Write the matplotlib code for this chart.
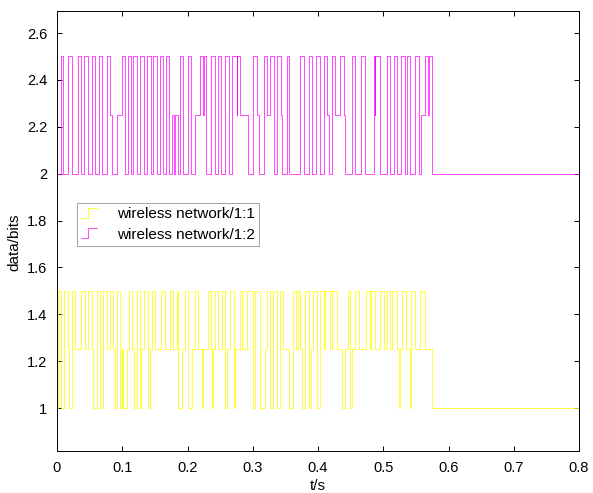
import matplotlib
matplotlib.use("Agg")
import matplotlib.pyplot as plt
from matplotlib.legend_handler import HandlerBase
from matplotlib.lines import Line2D

plt.rcParams['font.family'] = ['Liberation Sans', 'DejaVu Sans']

# ---- data: change times (s) and level after each change ----
t_end = 0.8

y_t = [0.0000, 0.0010, 0.0061, 0.0113, 0.0174, 0.0190, 0.0225, 0.0276, 0.0368, 0.0429,
       0.0481, 0.0532, 0.0557, 0.0608, 0.0660, 0.0711, 0.0762, 0.0813, 0.0864, 0.0890,
       0.0915, 0.0966, 0.0992, 0.1018, 0.1069, 0.1104, 0.1155, 0.1180, 0.1222, 0.1273,
       0.1288, 0.1340, 0.1391, 0.1427, 0.1452, 0.1503, 0.1595, 0.1656, 0.1733, 0.1784,
       0.1835, 0.1861, 0.1912, 0.1963, 0.2014, 0.2065, 0.2117, 0.2168, 0.2219, 0.2245,
       0.2311, 0.2362, 0.2372, 0.2398, 0.2423, 0.2474, 0.2526, 0.2577, 0.2602, 0.2653,
       0.2705, 0.2730, 0.2807, 0.2832, 0.2909, 0.2960, 0.3011, 0.3037, 0.3114, 0.3190,
       0.3226, 0.3267, 0.3318, 0.3369, 0.3410, 0.3461, 0.3563, 0.3614, 0.3666, 0.3700,
       0.3727, 0.3753, 0.3804, 0.3855, 0.3890, 0.3931, 0.3983, 0.4034, 0.4085, 0.4110,
       0.4187, 0.4213, 0.4290, 0.4366, 0.4417, 0.4453, 0.4494, 0.4520, 0.4560, 0.4621,
       0.4739, 0.4790, 0.4810, 0.4877, 0.4954, 0.5005, 0.5056, 0.5107, 0.5133, 0.5210,
       0.5235, 0.5261, 0.5286, 0.5348, 0.5414, 0.5429, 0.5481, 0.5568, 0.5644, 0.5747]
y_v = [1.0, 1.5, 1.0, 1.5, 1.25, 1.0, 1.5, 1.25, 1.5, 1.25,
       1.5, 1.25, 1.0, 1.5, 1.0, 1.5, 1.25, 1.5, 1.25, 1.0,
       1.5, 1.0, 1.25, 1.0, 1.25, 1.5, 1.25, 1.0, 1.5, 1.0,
       1.25, 1.5, 1.0, 1.25, 1.5, 1.25, 1.5, 1.25, 1.5, 1.25,
       1.5, 1.0, 1.25, 1.5, 1.0, 1.25, 1.5, 1.25, 1.0, 1.25,
       1.5, 1.25, 1.0, 1.25, 1.5, 1.25, 1.5, 1.0, 1.25, 1.5,
       1.0, 1.25, 1.5, 1.25, 1.5, 1.5, 1.0, 1.5, 1.0, 1.25,
       1.5, 1.0, 1.5, 1.0, 1.5, 1.25, 1.0, 1.5, 1.25, 1.5,
       1.25, 1.0, 1.5, 1.0, 1.25, 1.5, 1.0, 1.5, 1.25, 1.5,
       1.25, 1.5, 1.25, 1.0, 1.25, 1.5, 1.0, 1.25, 1.5, 1.25,
       1.5, 1.25, 1.5, 1.25, 1.5, 1.25, 1.5, 1.25, 1.5, 1.25,
       1.0, 1.25, 1.5, 1.25, 1.0, 1.5, 1.25, 1.5, 1.25, 1.0]

m_t = [0.0000, 0.0061, 0.0097, 0.0174, 0.0225, 0.0317, 0.0373, 0.0419, 0.0470, 0.0532,
       0.0583, 0.0644, 0.0695, 0.0762, 0.0818, 0.0844, 0.0915, 0.0992, 0.1048, 0.1084,
       0.1135, 0.1171, 0.1232, 0.1273, 0.1334, 0.1385, 0.1436, 0.1477, 0.1539, 0.1580,
       0.1631, 0.1667, 0.1718, 0.1770, 0.1790, 0.1810, 0.1856, 0.1881, 0.1933, 0.2009,
       0.2060, 0.2122, 0.2188, 0.2245, 0.2250, 0.2291, 0.2367, 0.2418, 0.2469, 0.2520,
       0.2582, 0.2633, 0.2689, 0.2751, 0.2756, 0.2802, 0.2930, 0.3011, 0.3062, 0.3100,
       0.3165, 0.3216, 0.3267, 0.3328, 0.3369, 0.3431, 0.3450, 0.3522, 0.3563, 0.3727,
       0.3778, 0.3855, 0.3906, 0.3972, 0.4023, 0.4085, 0.4136, 0.4170, 0.4213, 0.4264,
       0.4340, 0.4391, 0.4410, 0.4519, 0.4571, 0.4663, 0.4714, 0.4862, 0.4867, 0.4872,
       0.4944, 0.5056, 0.5107, 0.5158, 0.5210, 0.5276, 0.5327, 0.5363, 0.5414, 0.5491,
       0.5542, 0.5583, 0.5634, 0.5690, 0.5695, 0.5746]
m_v = [2.0, 2.5, 2.0, 2.5, 2.0, 2.5, 2.0, 2.5, 2.0, 2.5,
       2.0, 2.5, 2.0, 2.5, 2.25, 2.0, 2.25, 2.5, 2.0, 2.5,
       2.0, 2.5, 2.0, 2.5, 2.0, 2.5, 2.0, 2.5, 2.0, 2.5,
       2.0, 2.5, 2.0, 2.25, 2.0, 2.25, 2.0, 2.5, 2.0, 2.5,
       2.0, 2.25, 2.5, 2.25, 2.5, 2.0, 2.5, 2.0, 2.5, 2.0,
       2.5, 2.0, 2.5, 2.25, 2.5, 2.25, 2.0, 2.5, 2.25, 2.0,
       2.5, 2.25, 2.5, 2.0, 2.5, 2.25, 2.0, 2.5, 2.0, 2.5,
       2.0, 2.5, 2.0, 2.5, 2.0, 2.5, 2.25, 2.0, 2.5, 2.25,
       2.5, 2.25, 2.0, 2.5, 2.0, 2.5, 2.0, 2.5, 2.25, 2.5,
       2.0, 2.5, 2.0, 2.5, 2.0, 2.5, 2.0, 2.5, 2.0, 2.5,
       2.0, 2.25, 2.5, 2.25, 2.5, 2.0]

labels = ['wireless network/1:1', 'wireless network/1:2']
x_ticks = [0, 0.1, 0.2, 0.3, 0.4, 0.5, 0.6, 0.7, 0.8]
x_ticklabels = ['0', '0.1', '0.2', '0.3', '0.4', '0.5', '0.6', '0.7', '0.8']
y_ticks = [1, 1.2, 1.4, 1.6, 1.8, 2, 2.2, 2.4, 2.6]
y_ticklabels = ['1', '1.2', '1.4', '1.6', '1.8', '2', '2.2', '2.4', '2.6']


class StepHandler(HandlerBase):
    def create_artists(self, legend, orig_handle, xdescent, ydescent,
                       width, height, fontsize, trans):
        x0 = -xdescent
        y0 = -ydescent
        xs = [x0, x0 + 0.45 * width, x0 + 0.45 * width, x0 + width]
        ys = [y0 + 0.05 * height, y0 + 0.05 * height, y0 + 0.95 * height, y0 + 0.95 * height]
        ln = Line2D(xs, ys, color=orig_handle.get_color(), lw=orig_handle.get_linewidth())
        ln.set_transform(trans)
        return [ln]


fig = plt.figure(figsize=(5.93, 4.93), dpi=100)
ax = fig.add_axes([57 / 593, 42 / 493, 522 / 593, 440 / 493])

yt = y_t + [t_end]
yv = y_v + [y_v[-1]]
mt = m_t + [t_end]
mv = m_v + [m_v[-1]]

l1, = ax.step(yt, yv, where='post', color='#FFFF00', lw=0.55)
l2, = ax.step(mt, mv, where='post', color='#FF00FF', lw=0.5)

ax.set_xlim(0, 0.8)
ax.set_ylim(0.817, 2.694)
ax.set_xticks(x_ticks)
ax.set_xticklabels(x_ticklabels)
ax.set_yticks(y_ticks)
ax.set_yticklabels(y_ticklabels)
ax.tick_params(direction='in', length=3.8, width=0.7, top=True, right=True,
               labelsize=10.5, pad=7)
for s in ax.spines.values():
    s.set_linewidth(0.7)

ax.set_xlabel('t/s', fontsize=11, labelpad=3)
ax.set_ylabel('data/bits', fontsize=11)
ax.yaxis.set_label_coords(-0.068, 0.475)

leg = ax.legend([l1, l2], labels, handler_map={Line2D: StepHandler()},
                loc='upper left', bbox_to_anchor=(0.038, 0.564),
                fontsize=11, frameon=True, fancybox=False, edgecolor='#8C8C8C',
                handlelength=1.0, handletextpad=1.3, borderpad=0.3,
                labelspacing=0.4, borderaxespad=0)
leg.get_frame().set_linewidth(0.7)

fig.savefig('out.png', dpi=100)
